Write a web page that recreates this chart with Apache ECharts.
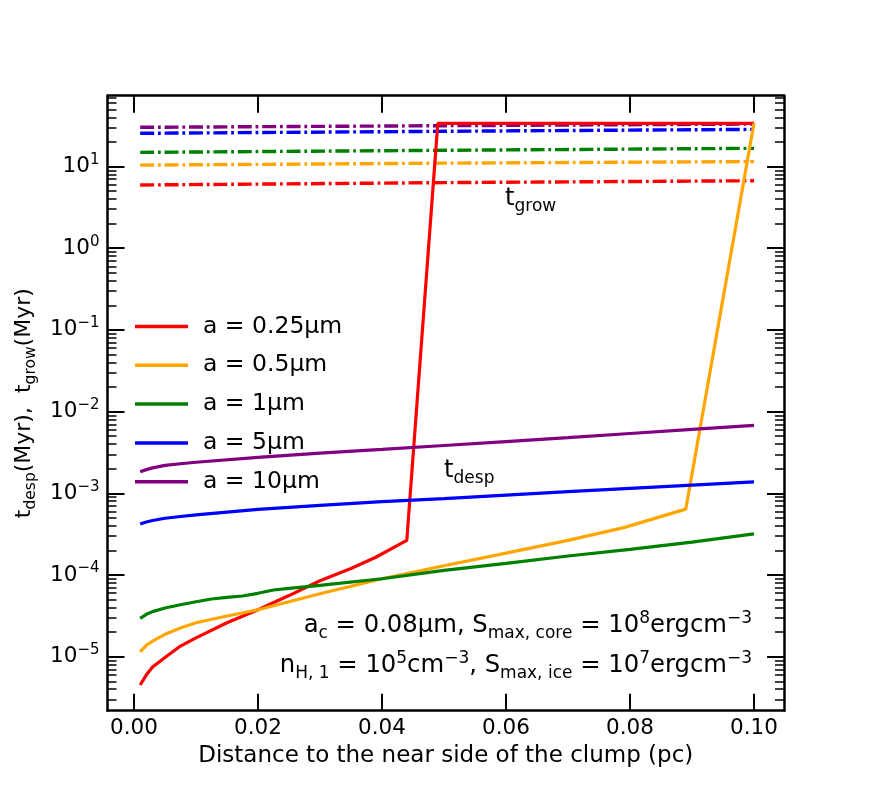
<!DOCTYPE html>
<html>
<head>
<meta charset="utf-8">
<script src="https://cdn.jsdelivr.net/npm/echarts@6/dist/echarts.min.js"></script>
<style>
html, body { margin: 0; padding: 0; background: #fff; }
#main { width: 872px; height: 799px; }
</style>
</head>
<body>
<div id="main"></div>
<script>
// grain sizes and colours
var sizeNames = ['a = 0.25μm', 'a = 0.5μm', 'a = 1μm', 'a = 5μm', 'a = 10μm'];
var colors = ['#ff0000', '#ffa500', '#008000', '#0000ff', '#800080'];

// t_desp (Myr) against distance (pc)
var xRed = [0.001, 0.002, 0.003, 0.005, 0.0075, 0.01, 0.015, 0.02, 0.025, 0.03, 0.035, 0.039, 0.044, 0.049, 0.1];
var yRed = [4.5e-6, 6.0e-6, 7.5e-6, 9.8e-6, 1.35e-5, 1.7e-5, 2.6e-5, 3.75e-5, 5.6e-5, 8.5e-5, 1.2e-4, 1.65e-4, 2.65e-4, 33.8, 33.8];

var xOrange = [0.001, 0.002, 0.003, 0.005, 0.0075, 0.01, 0.015, 0.02, 0.03, 0.04, 0.05, 0.06, 0.07, 0.079, 0.089, 0.1];
var yOrange = [1.15e-5, 1.38e-5, 1.55e-5, 1.88e-5, 2.25e-5, 2.6e-5, 3.15e-5, 3.75e-5, 5.9e-5, 9.0e-5, 1.3e-4, 1.85e-4, 2.65e-4, 3.8e-4, 6.4e-4, 33.8];

var xGreen = [0.001, 0.002, 0.003, 0.005, 0.0075, 0.01, 0.0125, 0.015, 0.0175, 0.02, 0.0225, 0.025, 0.03, 0.04, 0.05, 0.06, 0.07, 0.08, 0.09, 0.1];
var yGreen = [2.95e-5, 3.3e-5, 3.56e-5, 3.95e-5, 4.33e-5, 4.7e-5, 5.08e-5, 5.33e-5, 5.53e-5, 5.97e-5, 6.55e-5, 6.87e-5, 7.48e-5, 9.0e-5, 1.14e-4, 1.39e-4, 1.71e-4, 2.06e-4, 2.53e-4, 3.18e-4];

var xBlue = [0.001, 0.002, 0.003, 0.005, 0.0075, 0.01, 0.02, 0.03, 0.04, 0.05, 0.06, 0.07, 0.08, 0.09, 0.1];
var yBlue = [4.2e-4, 4.45e-4, 4.65e-4, 4.95e-4, 5.2e-4, 5.45e-4, 6.35e-4, 7.1e-4, 7.9e-4, 8.6e-4, 9.5e-4, 1.05e-3, 1.15e-3, 1.26e-3, 1.38e-3];

var xPurple = [0.001, 0.002, 0.003, 0.005, 0.0075, 0.01, 0.02, 0.03, 0.04, 0.05, 0.06, 0.07, 0.08, 0.09, 0.1];
var yPurple = [1.84e-3, 1.95e-3, 2.05e-3, 2.2e-3, 2.3e-3, 2.4e-3, 2.75e-3, 3.1e-3, 3.45e-3, 3.85e-3, 4.3e-3, 4.8e-3, 5.4e-3, 6.05e-3, 6.8e-3];

// t_grow (Myr), nearly flat
var xGrow = [0.001, 0.05, 0.1];
var yGrowRed = [5.94, 6.35, 6.7];
var yGrowOrange = [10.4, 11.0, 11.5];
var yGrowGreen = [14.9, 15.8, 16.7];
var yGrowBlue = [25.5, 27.0, 28.5];
var yGrowPurple = [30.2, 31.6, 33.1];

// axis ticks
var xTicks = [0, 0.02, 0.04, 0.06, 0.08, 0.10];
var yDecades = [-5, -4, -3, -2, -1, 0, 1];

var xMin = -0.00427, xMax = 0.10484;
var yMin = -5.661, yMax = 1.867;   // log10 of the limits

var despX = [xRed, xOrange, xGreen, xBlue, xPurple];
var despY = [yRed, yOrange, yGreen, yBlue, yPurple];
var growY = [yGrowRed, yGrowOrange, yGrowGreen, yGrowBlue, yGrowPurple];

function pairs(xs, ys) {
	return xs.map(function(x, i) { return [x, Math.log10(ys[i])]; });
}

// minor log ticks 2..9 x 10^n
var yMinor = [];
for (var n = -6; n <= 1; n++) {
	for (var k = 2; k <= 9; k++) {
		var v = Math.log10(k) + n;
		if (v > yMin && v < yMax) yMinor.push(v);
	}
}

var font = 'DejaVu Sans';
var supRich = {
	b: { fontSize: 21.5, fontFamily: font, color: '#000', lineHeight: 28 },
	sup: { fontSize: 15, fontFamily: font, color: '#000', verticalAlign: 'top', lineHeight: 14 }
};

function frameX(pos, labels) {
	return {
		type: 'value', position: pos, min: xMin, max: xMax,
		axisLine: { onZero: false, lineStyle: { color: '#000', width: 2.5 } },
		axisTick: { inside: true, length: 17, customValues: xTicks, lineStyle: { color: '#000', width: 2 } },
		axisLabel: {
			show: labels, customValues: xTicks, margin: 7,
			fontSize: 21.5, fontFamily: font, color: '#000',
			formatter: function(v) { return v.toFixed(2); }
		},
		splitLine: { show: false }
	};
}

function frameY(pos, major, labels) {
	return {
		type: 'value', position: pos, min: yMin, max: yMax,
		axisLine: { show: major, onZero: false, lineStyle: { color: '#000', width: 2.5 } },
		axisTick: {
			inside: true, length: major ? 17 : 9,
			customValues: major ? yDecades : yMinor,
			lineStyle: { color: '#000', width: major ? 2 : 1.5 }
		},
		axisLabel: {
			show: labels, customValues: yDecades, margin: 8,
			formatter: function(v) { return '{b|10}{sup|' + String(Math.round(v)).replace('-', '−') + '}'; },
			rich: supRich
		},
		splitLine: { show: false }
	};
}

var xAxes = [frameX('bottom', true), frameX('top', false)];
xAxes[0].name = 'Distance to the near side of the clump (pc)';
xAxes[0].nameLocation = 'middle';
xAxes[0].nameGap = 34;
xAxes[0].nameTextStyle = { fontSize: 23, fontFamily: font, color: '#000' };

var yAxes = [frameY('left', true, true), frameY('left', false, false), frameY('right', true, false), frameY('right', false, false)];
yAxes[0].name = '{b|t}{sub|desp}{b|(Myr),  t}{sub|grow}{b|(Myr)}';
yAxes[0].nameLocation = 'middle';
yAxes[0].nameGap = 66;
yAxes[0].nameTextStyle = {
	rich: {
		b: { fontSize: 22, fontFamily: font, color: '#000', lineHeight: 30 },
		sub: { fontSize: 15.5, fontFamily: font, color: '#000', verticalAlign: 'bottom', lineHeight: 15 }
	}
};

var series = [];
for (var i = 0; i < 5; i++) {
	series.push({
		name: sizeNames[i], type: 'line', symbol: 'none', color: colors[i],
		data: pairs(despX[i], despY[i]),
		lineStyle: { width: 3.2, color: colors[i] }, z: 3
	});
	series.push({
		name: 'grow ' + sizeNames[i], type: 'line', symbol: 'none', color: colors[i],
		data: pairs(xGrow, growY[i]),
		lineStyle: { width: 3.4, color: colors[i], type: [14, 3.8, 2.8, 3.8], cap: 'butt' }, z: 2
	});
}

var subRich = {
	b: { fontSize: 24.3, fontFamily: font, color: '#000', lineHeight: 32 },
	sub: { fontSize: 17, fontFamily: font, color: '#000', verticalAlign: 'bottom', lineHeight: 16 },
	sup: { fontSize: 17, fontFamily: font, color: '#000', verticalAlign: 'top', lineHeight: 16 }
};

var myChart = echarts.init(document.getElementById('main'));
var option = {
	backgroundColor: '#fff',
	animation: false,
	grid: { left: 107.5, right: 88, top: 95.7, bottom: 88.3, containLabel: false },
	xAxis: xAxes,
	yAxis: yAxes,
	legend: {
		data: sizeNames,
		orient: 'vertical', left: 130, top: 309,
		icon: 'rect', itemWidth: 53, itemHeight: 3.5, itemGap: 13.8,
		textStyle: { fontSize: 23.5, fontFamily: font, color: '#000', lineHeight: 25, padding: [0, 0, 0, 10] }
	},
	graphic: [
		{ type: 'text', left: 505, top: 187, style: { text: '{b|t}{sub|grow}', rich: subRich } },
		{ type: 'text', left: 444, top: 459, style: { text: '{b|t}{sub|desp}', rich: subRich } },
		{ type: 'text', right: 120, top: 610, style: { text: '{b|a}{sub|c}{b| = 0.08μm, S}{sub|max, core}{b| = 10}{sup|8}{b|ergcm}{sup|−3}', rich: subRich } },
		{ type: 'text', right: 120, top: 650, style: { text: '{b|n}{sub|H, 1}{b| = 10}{sup|5}{b|cm}{sup|−3}{b|, S}{sub|max, ice}{b| = 10}{sup|7}{b|ergcm}{sup|−3}', rich: subRich } }
	],
	series: series
};
myChart.setOption(option);
</script>
</body>
</html>
